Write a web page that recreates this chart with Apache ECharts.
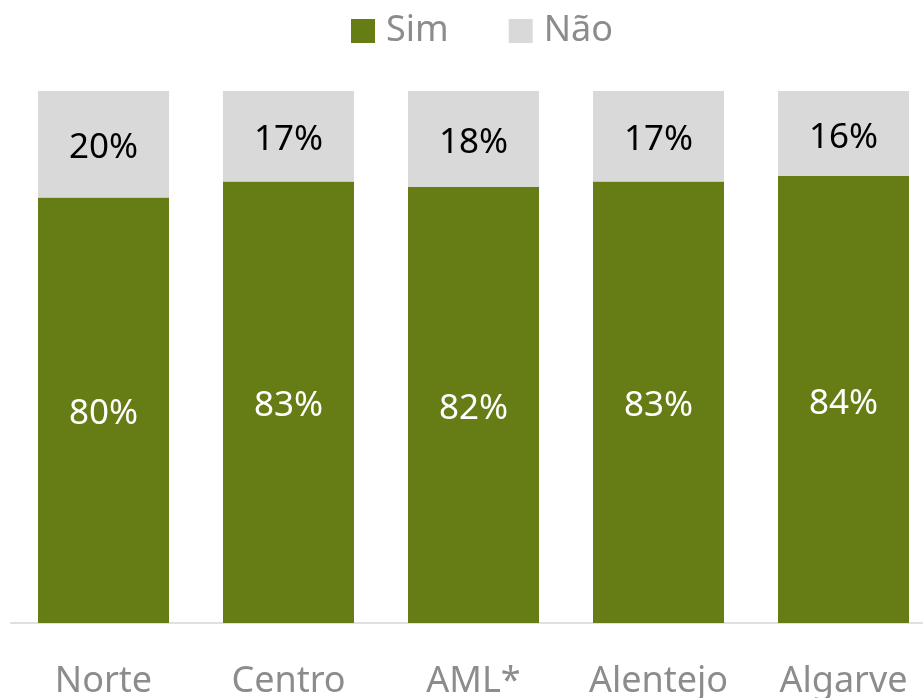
<!DOCTYPE html>
<html>
<head>
<meta charset="utf-8">
<script src="https://cdn.jsdelivr.net/npm/echarts@6/dist/echarts.min.js"></script>
<style>
  html, body { margin: 0; padding: 0; background: #fff; }
  #chart { width: 923px; height: 698px; }
</style>
</head>
<body>
<div id="chart"></div>
<script>
// dados
const regioes = ['Norte', 'Centro', 'AML*', 'Alentejo', 'Algarve']
const sim = [80, 83, 82, 83, 84]
const nao = [20, 17, 18, 17, 16]

const fonte = '"Noto Sans", sans-serif'

const myChart = echarts.init(document.getElementById('chart'))

myChart.setOption({
  animation: false,
  legend: {
    top: 8,
    left: 346,
    itemWidth: 24,
    itemHeight: 24,
    itemGap: 60,
    icon: 'rect',
    textStyle: { color: '#8c8c8c', fontSize: 36, fontFamily: fonte, padding: [0, 0, 0, 6] },
    data: ['Sim', 'Não']
  },
  // o gráfico original está cortado à direita
  grid: { left: 11, width: 925, top: 91, bottom: 75, containLabel: false, outerBoundsMode: 'none' },
  xAxis: {
    type: 'category',
    data: regioes,
    axisLine: { lineStyle: { color: '#e0e0e0', width: 2 } },
    axisTick: { show: false },
    axisLabel: { color: '#8c8c8c', fontSize: 36, fontFamily: fonte, margin: 41 }
  },
  yAxis: {
    type: 'value',
    min: 0,
    max: 100,
    show: false
  },
  series: [
    {
      name: 'Sim',
      type: 'bar',
      stack: 'total',
      barWidth: 131,
      itemStyle: { color: '#667c14' },
      label: {
        show: true,
        position: 'inside',
        offset: [0, 4],
        formatter: '{c}%',
        color: '#fff',
        fontSize: 35,
        fontFamily: fonte
      },
      data: sim
    },
    {
      name: 'Não',
      type: 'bar',
      stack: 'total',
      barWidth: 131,
      itemStyle: { color: '#d9d9d9' },
      label: {
        show: true,
        position: 'inside',
        offset: [0, 4],
        formatter: '{c}%',
        color: '#000',
        fontSize: 35,
        fontFamily: fonte
      },
      data: nao
    }
  ]
})
</script>
</body>
</html>
